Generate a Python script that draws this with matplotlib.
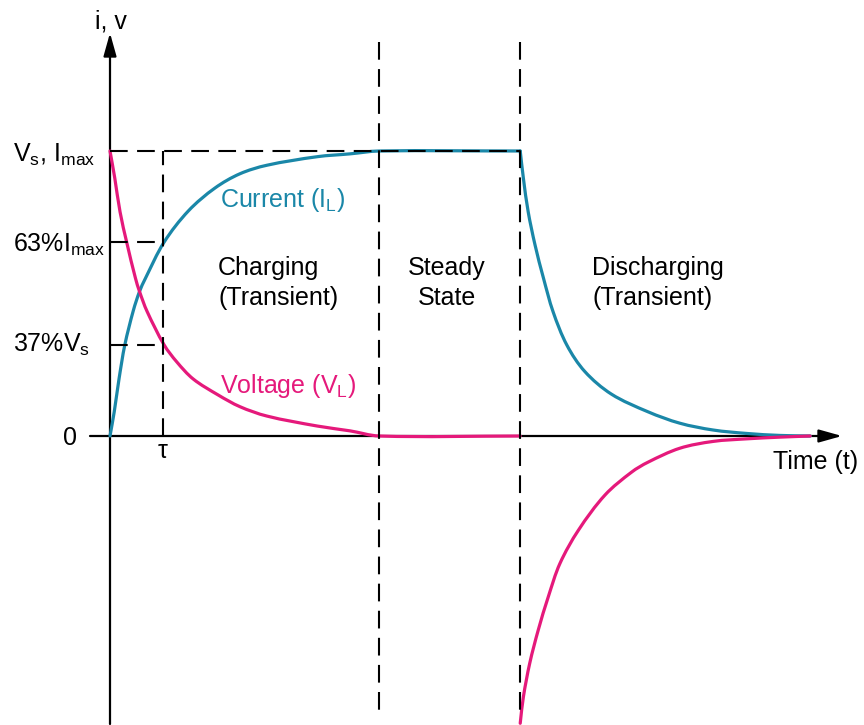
import numpy as np
import matplotlib
matplotlib.use("Agg")
import matplotlib.pyplot as plt
from matplotlib.path import Path
from matplotlib.patches import PathPatch

plt.rcParams['font.family'] = ['Liberation Sans', 'DejaVu Sans']
plt.rcParams['mathtext.fontset'] = 'custom'
plt.rcParams['mathtext.rm'] = 'Liberation Sans'
plt.rcParams['mathtext.it'] = 'Liberation Sans'

# time in units of tau, values as fraction of Vs / Imax
charge_t = [0, 0.08, 0.17, 0.28, 0.44, 0.557, 0.66, 1.02, 1.48, 1.98, 2.45,
            2.96, 3.91, 4.53, 5.08, 7.74]
charge_i = [0, 0.085, 0.20, 0.32, 0.44, 0.507, 0.55, 0.68, 0.79, 0.87, 0.92,
            0.95, 0.98, 0.99, 1.0, 1.0]
charge_vt = [0, 0.09, 0.19, 0.32, 0.48, 0.557, 0.70, 1.02, 1.26, 1.57, 2.04,
             2.45, 2.96, 3.91, 4.53, 5.08, 7.74]
charge_v = [1.0, 0.905, 0.786, 0.676, 0.554, 0.507, 0.437, 0.32, 0.26, 0.20, 0.144,
            0.103, 0.07, 0.035, 0.018, 0.0, 0.0]

dis_t = [7.74, 7.80, 7.89, 8.02, 8.18, 8.36, 8.62, 8.96, 9.46, 10.15, 10.75,
         11.38, 12.01, 12.64, 13.21]
dis_i = [1.0, 0.904, 0.787, 0.670, 0.553, 0.436, 0.319, 0.226, 0.147, 0.085, 0.045,
         0.021, 0.009, 0.002, 0.0]
dis_vt = [7.74, 7.80, 7.92, 8.08, 8.27, 8.49, 8.84, 9.34, 9.84, 10.15, 10.75,
          11.38, 12.01, 12.64, 13.21]
dis_v = [-1.008, -0.915, -0.797, -0.681, -0.564, -0.447, -0.330, -0.207, -0.127, -0.092,
         -0.043, -0.019, -0.010, -0.004, 0.0]

tau = 1.0
level_63 = 0.68
level_37 = 0.32
t_steady = 5.08
t_dis = 7.74

ytick_labels = [r'$\mathregular{V_s}$, $\mathregular{I_{max}}$',
                r'63%$\mathregular{I_{max}}$', r'37%$\mathregular{V_s}$']

teal = '#1a87a8'
pink = '#e5197b'

# pixel layout of the picture
W, H = 864, 725
X0, Y0 = 110, 436
TX, VY = 53.0, 285.0

def px(x):
    return (x - X0) / TX

def py(y):
    return (Y0 - y) / VY

def smooth_curve(ax, xs, ys, **kw):
    # smooth line through the read points: chord-length hermite -> bezier segments
    s = np.array([TX, VY])
    p = np.column_stack([xs, ys]).astype(float) * s
    d = np.linalg.norm(np.diff(p, axis=0), axis=1)
    n = len(p)
    m = np.zeros_like(p)
    m[0] = (p[1] - p[0]) / d[0]
    m[-1] = (p[-1] - p[-2]) / d[-1]
    for k in range(1, n - 1):
        m[k] = (p[k + 1] - p[k - 1]) / (d[k - 1] + d[k])
    verts = [p[0]]
    codes = [Path.MOVETO]
    for k in range(n - 1):
        verts += [p[k] + m[k] * d[k] / 3, p[k + 1] - m[k + 1] * d[k] / 3, p[k + 1]]
        codes += [Path.CURVE4] * 3
    verts = np.array(verts) / s
    ax.add_patch(PathPatch(Path(verts, codes), fill=False, capstyle='round', **kw))

fig = plt.figure(figsize=(W / 100, H / 100), dpi=100)
ax = fig.add_axes([0, 0, 1, 1])
ax.set_xlim(px(0), px(W))
ax.set_ylim(py(H), py(0))
ax.axis('off')

# axes with arrows
arrow = dict(arrowstyle='-|>,head_length=1.0,head_width=0.28', mutation_scale=14,
             lw=1.6, color='black', shrinkA=0, shrinkB=0)
ax.annotate('', xy=(0, py(33)), xytext=(0, py(724)), arrowprops=arrow)
ax.annotate('', xy=(px(842), 0), xytext=(px(90), 0), arrowprops=arrow)

# curves
smooth_curve(ax, charge_t, charge_i, edgecolor=teal, lw=2.3, zorder=3)
smooth_curve(ax, dis_t, dis_i, edgecolor=teal, lw=2.3, zorder=3)
smooth_curve(ax, charge_vt, charge_v, edgecolor=pink, lw=2.3, zorder=3)
smooth_curve(ax, dis_vt, dis_v, edgecolor=pink, lw=2.3, zorder=3)

# dashed guides
dash = dict(color='black', lw=1.5, dashes=(8.5, 4.5), zorder=4)
ax.plot([0, t_dis], [1, 1], **dash)
ax.plot([0, tau], [level_63, level_63], **dash)
ax.plot([0, tau], [level_37, level_37], **dash)
ax.plot([tau, tau], [0, 1], **dash)
ax.plot([t_steady, t_steady], [py(42), py(715)], **dash)
ax.plot([t_dis, t_dis], [py(42), py(715)], **dash)

fs = 18
# axis labels
ax.text(px(111), py(28), 'i, v', fontsize=fs, ha='center', va='baseline')
for lab, base in zip(ytick_labels, [162, 252, 352]):
    ax.text(px(13), py(base), lab, fontsize=fs, ha='left', va='baseline')
ax.text(px(70), py(445), '0', fontsize=fs, ha='center', va='baseline')
ax.text(tau, py(458), 'τ', fontsize=fs, ha='center', va='baseline')
ax.text(px(773), py(469), 'Time (t)', fontsize=fs, ha='left', va='baseline')

# annotations
ax.text(px(220), py(207), r'Current ($\mathregular{I_L}$)', fontsize=fs, color=teal,
        ha='left', va='baseline')
ax.text(px(220), py(393), r'Voltage ($\mathregular{V_L}$)', fontsize=fs, color=pink,
        ha='left', va='baseline')
ax.text(px(218), py(275), 'Charging', fontsize=fs, ha='left', va='baseline')
ax.text(px(218), py(305), '(Transient)', fontsize=fs, ha='left', va='baseline')
ax.text(px(447), py(275), 'Steady', fontsize=fs, ha='center', va='baseline')
ax.text(px(447), py(305), 'State', fontsize=fs, ha='center', va='baseline')
ax.text(px(592), py(275), 'Discharging', fontsize=fs, ha='left', va='baseline')
ax.text(px(592), py(305), '(Transient)', fontsize=fs, ha='left', va='baseline')

fig.savefig('out.png', dpi=100)
